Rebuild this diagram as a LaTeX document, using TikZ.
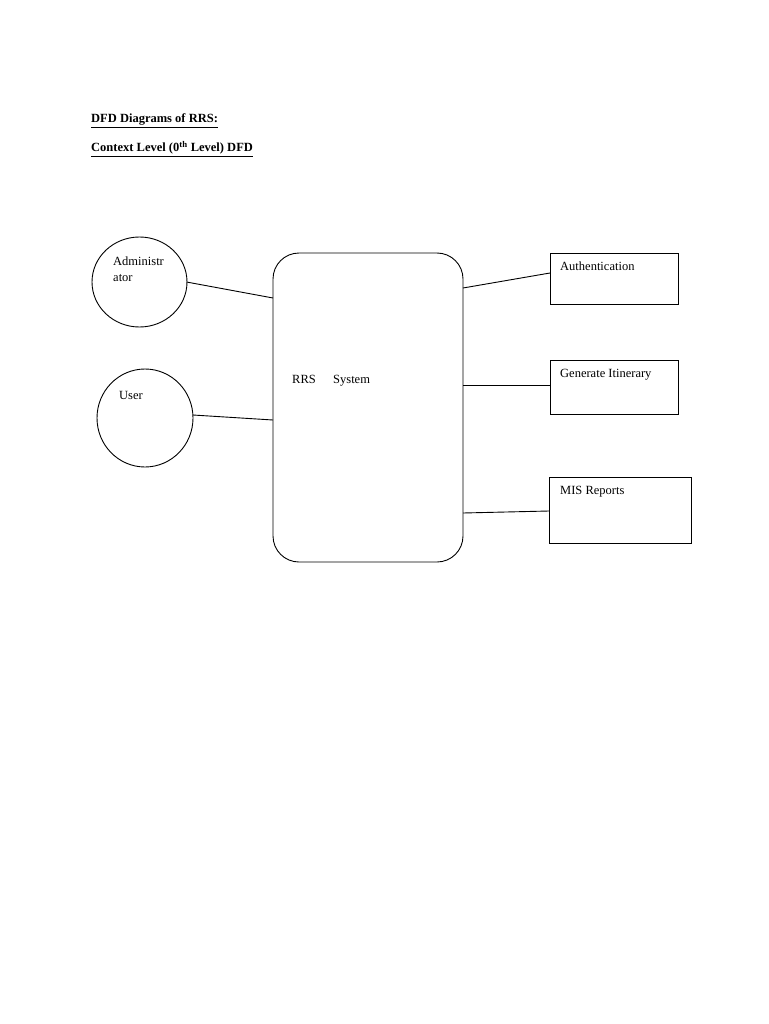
\documentclass[tikz,border=0pt]{standalone}
\usepackage{fontspec}
\setmainfont{Liberation Serif}
\begin{document}
\begin{tikzpicture}[x=1pt,y=-1pt,
  lbl/.style={anchor=base west,inner sep=0pt,font=\fontsize{12.5}{14}\selectfont},
  hdr/.style={anchor=base west,inner sep=0pt,font=\fontsize{12.5}{14}\selectfont\bfseries},
  ent/.style={draw,ellipse,line width=0.8pt},
  boxe/.style={draw,line width=0.8pt},
  conn/.style={line width=0.9pt}]
\useasboundingbox (0,0) rectangle (768,1024);
\fill[white] (0,0) rectangle (768,1024);
% headers
\node[hdr] (h1) at (91,123) {\underline{DFD Diagrams of RRS:}};
\node[hdr] (h2) at (91,152) {\underline{Context Level (0\textsuperscript{th} Level) DFD}};
% external entities
\draw[conn] (139.5,282) ellipse [x radius=47.5, y radius=45];
\coordinate (adm) at (139.5,282);
\draw[conn] (145,418) ellipse [x radius=48, y radius=49];
\coordinate (usr) at (145,418);
\node[lbl] (admt) at (113,265.5) {Administr};
\node[lbl] (admt2) at (113,281.5) {ator};
\node[lbl] (usrt) at (119,399) {User};
% system
\draw[conn,rounded corners=26pt] (273,253) rectangle (463,562);
\node[lbl] (rrs) at (292,383) {RRS};
\node[lbl] (sys) at (333,383) {System};
% right boxes
\draw[conn] (550,253) rectangle (678,304);
\draw[conn] (550,360) rectangle (678,414);
\draw[conn] (549,477) rectangle (691,543);
\node[lbl] (auth) at (560,270.5) {Authentication};
\node[lbl] (gen) at (560,377.5) {Generate Itinerary};
\node[lbl] (mis) at (560,494.5) {MIS Reports};
% connectors
\coordinate (a1) at (186.5,282);
\coordinate (a2) at (273,298);
\coordinate (u1) at (193,415);
\coordinate (u2) at (273,420);
\coordinate (r1) at (463,288);
\coordinate (r1b) at (550,273);
\coordinate (r2) at (463,385);
\coordinate (r2b) at (550,385);
\coordinate (r3) at (463,513);
\coordinate (r3b) at (549,511);
\draw[conn] (a1) -- (a2);
\draw[conn] (u1) -- (u2);
\draw[conn] (r1) -- (r1b);
\draw[conn] (r2) -- (r2b);
\draw[conn] (r3) -- (r3b);
\end{tikzpicture}
\end{document}
